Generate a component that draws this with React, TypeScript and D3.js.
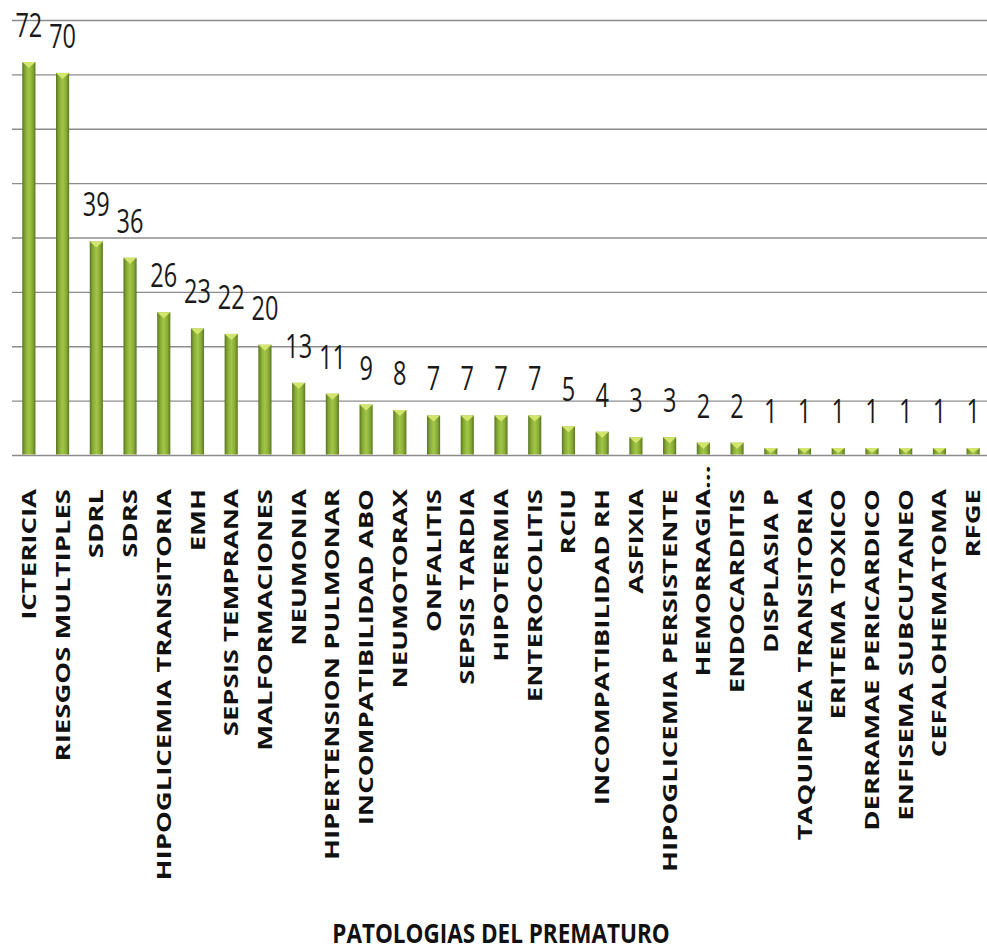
import React, { useEffect, useRef } from 'react';
import * as d3 from 'd3';

const categories = [
  'ICTERICIA', 'RIESGOS MULTIPLES', 'SDRL', 'SDRS', 'HIPOGLICEMIA TRANSITORIA', 'EMH',
  'SEPSIS TEMPRANA', 'MALFORMACIONES', 'NEUMONIA', 'HIPERTENSION PULMONAR',
  'INCOMPATIBILIDAD ABO', 'NEUMOTORAX', 'ONFALITIS', 'SEPSIS TARDIA', 'HIPOTERMIA',
  'ENTEROCOLITIS', 'RCIU', 'INCOMPATIBILIDAD RH', 'ASFIXIA', 'HIPOGLICEMIA PERSISTENTE',
  'HEMORRAGIA...', 'ENDOCARDITIS', 'DISPLASIA P', 'TAQUIPNEA TRANSITORIA', 'ERITEMA TOXICO',
  'DERRAMAE PERICARDICO', 'ENFISEMA SUBCUTANEO', 'CEFALOHEMATOMA', 'RFGE'
];
const values = [72, 70, 39, 36, 26, 23, 22, 20, 13, 11, 9, 8, 7, 7, 7, 7, 5, 4, 3, 3, 2, 2, 1, 1, 1, 1, 1, 1, 1];
const yTicks = [0, 10, 20, 30, 40, 50, 60, 70, 80];
const axisTitle = 'PATOLOGIAS DEL PREMATURO';

const App = () => {
  const ref = useRef<SVGSVGElement | null>(null);

  useEffect(() => {
    const width = 987;
    const height = 952;
    const svg = d3.select(ref.current);
    svg.selectAll('*').remove();

    const x = d3.scaleBand<string>().domain(categories).range([12, 990]);
    const y = d3.scaleLinear().domain([0, 80]).range([455.5, 20.5]);
    const barW = x.bandwidth() * 0.39;

    // gradient for the cylinder look
    const defs = svg.append('defs');
    const grad = defs.append('linearGradient').attr('id', 'barGrad')
      .attr('x1', '0%').attr('x2', '100%').attr('y1', '0%').attr('y2', '0%');
    [['0%', '#587420'], ['22%', '#86a935'], ['50%', '#a3c648'], ['78%', '#88ab35'], ['100%', '#5a7621']]
      .forEach(([o, c]) => grad.append('stop').attr('offset', o).attr('stop-color', c));

    // grid lines
    svg.append('g').selectAll('line')
      .data(yTicks)
      .enter().append('line')
      .attr('x1', 12).attr('x2', width)
      .attr('y1', d => y(d)).attr('y2', d => y(d))
      .attr('stroke', '#8c8c8c')
      .attr('stroke-width', 1.4);

    const bars = svg.append('g').selectAll('g')
      .data(categories)
      .enter().append('g')
      .attr('transform', d => 'translate(' + (x(d)! + x.bandwidth() / 2) + ',0)');

    bars.append('rect')
      .attr('x', -barW / 2)
      .attr('width', barW)
      .attr('y', (d, i) => y(values[i]) - 2)
      .attr('height', (d, i) => y(0) - 1 - (y(values[i]) - 2))
      .attr('fill', 'url(#barGrad)');

    // lighter cap on top of each bar
    bars.append('path')
      .attr('d', (d, i) => {
        const top = y(values[i]) - 2;
        const h = Math.min(6, (y(0) - 1 - top) * 0.75);
        return 'M' + (-barW / 2) + ',' + top + 'L' + (barW / 2) + ',' + top + 'L0,' + (top + h) + 'Z';
      })
      .attr('fill', '#d2e66e');

    // value labels
    bars.append('g')
      .attr('transform', (d, i) => 'translate(0,' + (y(values[i]) - 27) + ') scale(1,1.42)')
      .append('text')
      .attr('text-anchor', 'middle')
      .attr('font-family', 'Open Sans')
      .attr('font-size', 23.5)
      .attr('fill', '#1a1a1a')
      .text((d, i) => values[i]);

    // category labels
    const labels = bars.append('g')
      .attr('transform', 'translate(0,489) scale(1,1.41) rotate(-90)')
      .attr('font-family', 'Open Sans')
      .attr('font-weight', 700)
      .attr('font-size', 19.5)
      .attr('fill', '#111');

    labels.append('text')
      .attr('text-anchor', 'end')
      .attr('dy', '0.36em')
      .text(d => d.replace('...', ''));

    labels.filter(d => d.endsWith('...'))
      .append('text')
      .attr('text-anchor', 'start')
      .attr('dy', '0.36em')
      .text('...');

    // axis title
    svg.append('g')
      .attr('transform', 'translate(' + (12 + 990) / 2 + ',943) scale(1,1.22)')
      .append('text')
      .attr('text-anchor', 'middle')
      .attr('font-family', 'Open Sans')
      .attr('font-weight', 700)
      .attr('font-size', 22.5)
      .attr('fill', '#111')
      .text(axisTitle);

    svg.attr('width', width).attr('height', height);
  }, []);

  return (
    <div style={{ position: 'absolute', left: 0, top: 0 }}>
      <svg ref={ref} width={987} height={952} style={{ display: 'block', background: '#fff' }} />
    </div>
  );
};

export default App;
